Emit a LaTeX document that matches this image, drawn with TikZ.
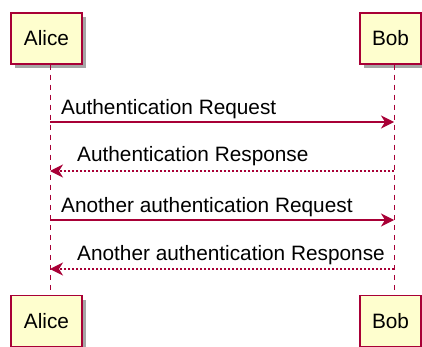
\documentclass[tikz,border=0pt]{standalone}
\usepackage{fontspec}
\setmainfont{Liberation Sans}
\usetikzlibrary{arrows.meta,shadows}
\definecolor{pline}{HTML}{A80036}
\definecolor{pfill}{HTML}{FEFECE}
\tikzset{
  actor/.style={rectangle,fill=pfill,draw=pline,line width=1.5pt,
    inner sep=0pt,minimum height=51pt,font=\fontsize{20.8}{24}\selectfont,
    drop shadow={shadow xshift=4pt,shadow yshift=-4pt,opacity=0.35,fill=black}},
  life/.style={pline,line width=1pt,dash pattern=on 5pt off 5pt},
  req/.style={pline,line width=1.2pt,-{Stealth[length=13pt,width=13pt,inset=4pt]}},
  resp/.style={req,dash pattern=on 2pt off 2pt},
  msglab/.style={anchor=base west,inner sep=0pt,font=\fontsize{20.8}{24}\selectfont}
}
\begin{document}
\begin{tikzpicture}[x=1pt,y=-1pt]
  \useasboundingbox (0,0) rectangle (422,347);
  % participants
  \node[actor,minimum width=71pt] (alice) at (46.5,38.5) {Alice};
  \node[actor,minimum width=61pt] (bob) at (390.5,38.5) {Bob};
  \node[actor,minimum width=71pt] (aliceEnd) at (46.5,321) {Alice};
  \node[actor,minimum width=61pt] (bobEnd) at (390.5,321) {Bob};
  % lifelines
  \draw[life] ([xshift=3.5pt]alice.south) -- ([xshift=3.5pt]aliceEnd.north);
  \draw[life] ([xshift=3.5pt]bob.south) -- ([xshift=3.5pt]bobEnd.north);
  % message ends on the lifelines
  \coordinate (a1) at (50,122);  \coordinate (b1) at (394,122);
  \coordinate (a2) at (50,171);  \coordinate (b2) at (394,171);
  \coordinate (a3) at (50,220);  \coordinate (b3) at (394,220);
  \coordinate (a4) at (50,269);  \coordinate (b4) at (394,269);
  % messages
  \draw[req] (a1) -- (b1);
  \node[msglab] (m1) at (61,115) {Authentication Request};
  \draw[resp] (b2) -- (a2);
  \node[msglab] (m2) at (77,162) {Authentication Response};
  \draw[req] (a3) -- (b3);
  \node[msglab] (m3) at (61,212) {Another authentication Request};
  \draw[resp] (b4) -- (a4);
  \node[msglab] (m4) at (77,260) {Another authentication Response};
\end{tikzpicture}
\end{document}
